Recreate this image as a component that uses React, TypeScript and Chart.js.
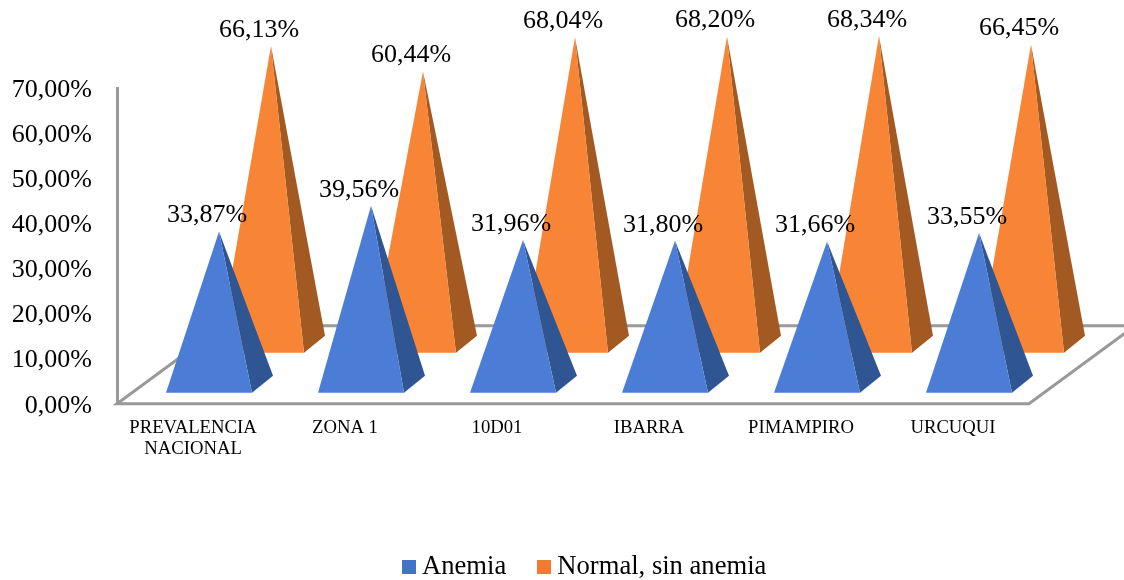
import React, { useEffect, useRef } from "react";
import { Chart, BarController, registerables } from "chart.js";

const categories: (string | string[])[] = [
  ["PREVALENCIA", "NACIONAL"],
  "ZONA 1",
  "10D01",
  "IBARRA",
  "PIMAMPIRO",
  "URCUQUI",
];
const anemia = [33.87, 39.56, 31.96, 31.8, 31.66, 33.55];
const normal = [66.13, 60.44, 68.04, 68.2, 68.34, 66.45];
const seriesNames = ["Anemia", "Normal, sin anemia"];
const legendColors = ["#4472c4", "#ed7d31"];
const frontFaces = ["#4c7dd6", "#f78535"];
const sideFaces = ["#2f5593", "#a25a22"];
const yTicks = { min: 0, max: 70, step: 10 };

const FONT = "'Liberation Serif', 'Times New Roman', serif";
const fmt = (v: number) => v.toFixed(2).replace(".", ",") + "%";

// 3D projection constants of the pyramid chart
const FLOOR_DX = 106;
const FLOOR_DY = 78;
const SERIES_FLOOR = [11, 51]; // how far up the floor each series row stands
const SERIES_SHIFT = 42; // grouped-bar centre to projected base centre
const BASE_HALF = 43;
const SIDE_DX = 21;
const SIDE_DY = 17;
const APEX_DX = 10;

function apexOf(el: any, index: number, bottom: number) {
  const baseY = bottom - SERIES_FLOOR[index];
  const lift = bottom - (baseY - SIDE_DY / 2);
  return { cx: el.x + SERIES_SHIFT, baseY, ax: el.x + SERIES_SHIFT + APEX_DX, ay: el.y - lift };
}

class PyramidController extends BarController {
  static id = "pyramid";
  static defaults = BarController.defaults;
  static overrides = BarController.overrides;
  draw() {
    const ctx = this.chart.ctx;
    const meta = this.getMeta();
    const i = this.index;
    const bottom = this.getScaleForId(meta.yAxisID).bottom;
    meta.data.forEach((el: any) => {
      const { cx, baseY, ax, ay } = apexOf(el, i, bottom);
      ctx.fillStyle = sideFaces[i];
      ctx.beginPath();
      ctx.moveTo(cx + BASE_HALF, baseY);
      ctx.lineTo(cx + BASE_HALF + SIDE_DX, baseY - SIDE_DY);
      ctx.lineTo(ax, ay);
      ctx.closePath();
      ctx.fill();
      ctx.fillStyle = frontFaces[i];
      ctx.beginPath();
      ctx.moveTo(cx - BASE_HALF, baseY);
      ctx.lineTo(cx + BASE_HALF, baseY);
      ctx.lineTo(ax, ay);
      ctx.closePath();
      ctx.fill();
    });
  }
}

const floorPlugin = {
  id: "floor",
  beforeDatasetsDraw(chart: any) {
    const { ctx, chartArea: a } = chart;
    ctx.save();
    ctx.strokeStyle = "#999999";
    ctx.lineWidth = 3;
    ctx.beginPath();
    ctx.moveTo(a.left, a.bottom);
    ctx.lineTo(a.right, a.bottom);
    ctx.lineTo(a.right + FLOOR_DX, a.bottom - FLOOR_DY);
    ctx.lineTo(a.left + FLOOR_DX, a.bottom - FLOOR_DY);
    ctx.closePath();
    ctx.stroke();
    ctx.restore();
  },
};

const labelPlugin = {
  id: "valueLabels",
  afterDatasetsDraw(chart: any) {
    const { ctx, chartArea: a } = chart;
    ctx.save();
    ctx.font = `26px ${FONT}`;
    ctx.fillStyle = "#000000";
    ctx.textAlign = "center";
    ctx.textBaseline = "middle";
    chart.data.datasets.forEach((ds: any, i: number) => {
      chart.getDatasetMeta(i).data.forEach((el: any, j: number) => {
        const { ax, ay } = apexOf(el, i, a.bottom);
        ctx.fillText(fmt(ds.data[j]), ax - 12, ay - 16);
      });
    });
    ctx.restore();
  },
};

Chart.register(...registerables, PyramidController);

function swatch(color: string) {
  const c = document.createElement("canvas");
  c.width = 14;
  c.height = 14;
  const x = c.getContext("2d")!;
  x.fillStyle = color;
  x.fillRect(0, 0, 14, 14);
  return c;
}

export default function App() {
  const ref = useRef<HTMLCanvasElement>(null);
  useEffect(() => {
    const chart = new Chart(ref.current!, {
      type: "pyramid" as any,
      data: {
        labels: categories as any,
        datasets: [
          { label: seriesNames[0], data: anemia, backgroundColor: legendColors[0], yAxisID: "y", clip: false },
          { label: seriesNames[1], data: normal, backgroundColor: legendColors[1], yAxisID: "y", clip: false },
        ],
      },
      plugins: [floorPlugin, labelPlugin],
      options: {
        responsive: false,
        animation: false,
        layout: { padding: { left: 51, top: 88, right: 0, bottom: -10 } },
        datasets: { pyramid: { categoryPercentage: 0.684, barPercentage: 1 } } as any,
        plugins: {
          tooltip: { enabled: false },
          legend: {
            position: "bottom",
            labels: {
              color: "#000000",
              font: { family: FONT, size: 26.6 },
              usePointStyle: true,
              pointStyleWidth: 0.1,
              padding: 37.7,
              generateLabels(chart: any) {
                return Chart.defaults.plugins.legend.labels
                  .generateLabels(chart)
                  .map((it: any, i: number) => ({ ...it, pointStyle: swatch(legendColors[i]) }));
              },
            },
          } as any,
        },
        scales: {
          x: {
            type: "category",
            offset: true,
            grid: { display: false },
            border: { display: false },
            ticks: {
              color: "#000000",
              font: { family: FONT, size: 18.7, lineHeight: 1.12 },
              autoSkip: false,
              maxRotation: 0,
              minRotation: 0,
              padding: 6,
            },
            afterFit(s: any) {
              s.height = 112;
              s.paddingLeft = 0;
              s.paddingRight = 0;
            },
          },
          y: {
            type: "linear",
            position: "left",
            min: yTicks.min,
            max: yTicks.max,
            grid: { display: false },
            border: { color: "#999999", width: 3 },
            ticks: {
              stepSize: yTicks.step,
              color: "#000000",
              font: { family: FONT, size: 26 },
              padding: 17,
              labelOffset: 2,
              callback: (v: any) => fmt(Number(v)),
            },
            afterFit(s: any) {
              s.width = 66;
              s.paddingTop = 0;
              s.paddingBottom = 0;
              s._computeLabelArea = () => undefined; // tick text reaches left of the scale box
            },
          },
          y2: {
            type: "linear",
            position: "right",
            min: yTicks.min,
            max: yTicks.max,
            grid: { display: false },
            border: { display: false },
            ticks: { display: false },
            afterFit(s: any) {
              s.width = 95;
              s.paddingTop = 0;
              s.paddingBottom = 0;
            },
          },
        },
      } as any,
    });
    return () => chart.destroy();
  }, []);
  return (
    <div style={{ position: "fixed", left: 0, top: 0, width: 1124, height: 580, background: "#fff" }}>
      <canvas ref={ref} width={1124} height={580} style={{ display: "block" }} />
    </div>
  );
}
